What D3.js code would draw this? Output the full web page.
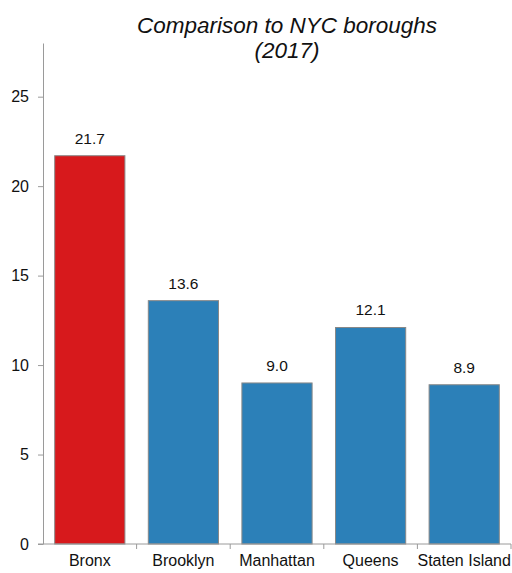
<!DOCTYPE html>
<html>
<head>
<meta charset="utf-8">
<script src="https://cdn.jsdelivr.net/npm/d3@7"></script>
<style>
  html, body { margin: 0; padding: 0; background: #fff; }
  svg { display: block; font-family: Arial, "Liberation Sans", sans-serif; }
</style>
</head>
<body>
<svg id="chart" width="512" height="573"></svg>
<script>
// Borough values, 2017
const boroughs = ["Bronx", "Brooklyn", "Manhattan", "Queens", "Staten Island"];
const values = [21.7, 13.6, 9.0, 12.1, 8.9];
const barColors = ["#d7191c", "#2c80b8", "#2c80b8", "#2c80b8", "#2c80b8"];
const yTicks = [0, 5, 10, 15, 20, 25];
const titleLines = ["Comparison to NYC boroughs", "(2017)"];

const svg = d3.select("#chart");
const margin = { left: 43, right: 1, top: 43, bottom: 29 };
const W = 512, H = 573;

const x = d3.scaleBand()
  .domain(boroughs)
  .range([margin.left, W - margin.right])
  .padding(0);

const y = d3.scaleLinear()
  .domain([0, 28])
  .range([H - margin.bottom, margin.top]);

const axisColor = "#9a9a9a";

// Title
const title = svg.append("text")
  .attr("x", 287)
  .attr("y", 33)
  .attr("text-anchor", "middle")
  .style("font-size", "22.5px")
  .style("font-style", "italic")
  .attr("fill", "#111");
title.selectAll("tspan")
  .data(titleLines)
  .join("tspan")
  .attr("x", 287)
  .attr("dy", (d, i) => i === 0 ? 0 : 25)
  .text(d => d);

// Bars
const barW = x.bandwidth() * 0.75;
svg.append("g")
  .selectAll("rect")
  .data(boroughs)
  .join("rect")
  .attr("x", d => x(d) + (x.bandwidth() - barW) / 2)
  .attr("y", (d, i) => y(values[i]))
  .attr("width", barW)
  .attr("height", (d, i) => y(0) - y(values[i]))
  .attr("fill", (d, i) => barColors[i])
  .attr("stroke", "#888")
  .attr("stroke-width", 1);

// Value labels
svg.append("g")
  .selectAll("text")
  .data(boroughs)
  .join("text")
  .attr("x", d => x(d) + x.bandwidth() / 2)
  .attr("y", (d, i) => y(values[i]) - 12)
  .attr("text-anchor", "middle")
  .style("font-size", "15.5px")
  .attr("fill", "#111")
  .text((d, i) => values[i].toFixed(1));

// Y axis
const yAxis = svg.append("g")
  .attr("transform", `translate(${margin.left},0)`)
  .call(d3.axisLeft(y).tickValues(yTicks).tickSize(5).tickPadding(9).tickSizeOuter(0));
yAxis.select(".domain").attr("stroke", axisColor);
yAxis.selectAll(".tick line").attr("stroke", axisColor);
yAxis.selectAll(".tick text")
  .style("font-size", "16px")
  .style("font-family", "Arial, 'Liberation Sans', sans-serif")
  .attr("fill", "#111");

// X axis: line, boundary ticks and category labels
const xg = svg.append("g")
  .attr("transform", `translate(0,${y(0)})`);
xg.append("line")
  .attr("x1", margin.left - 5)
  .attr("x2", W - margin.right)
  .attr("stroke", axisColor);
xg.selectAll(".bound")
  .data(boroughs.slice(1).concat(["__end"]))
  .join("line")
  .attr("class", "bound")
  .attr("x1", d => d === "__end" ? W - margin.right : x(d))
  .attr("x2", d => d === "__end" ? W - margin.right : x(d))
  .attr("y1", 0)
  .attr("y2", 5)
  .attr("stroke", axisColor);
xg.selectAll(".cat")
  .data(boroughs)
  .join("text")
  .attr("class", "cat")
  .attr("x", d => x(d) + x.bandwidth() / 2)
  .attr("y", 22)
  .attr("text-anchor", "middle")
  .style("font-size", "16px")
  .attr("fill", "#111")
  .text(d => d);
</script>
</body>
</html>
